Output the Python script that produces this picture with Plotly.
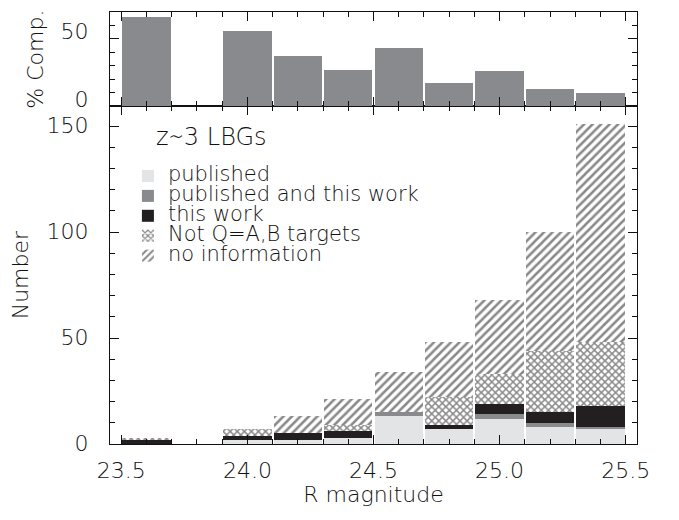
import plotly.graph_objects as go

# ---- data ----
bin_centers = [23.6, 23.8, 24.0, 24.2, 24.4, 24.6, 24.8, 25.0, 25.2, 25.4]
completeness = [66, 0, 56, 37, 27, 43, 17, 26, 13, 10]
published = [0, 0, 2, 2, 3, 13, 7, 12, 8, 7]
published_and_this = [0, 0, 0, 0, 0, 2, 0, 2, 2, 1]
this_work = [2, 0, 2, 3, 3, 0, 2, 5, 5, 10]
not_qab = [1, 0, 3, 0, 3, 0, 13, 14, 29, 30]
no_info = [0, 0, 0, 8, 12, 19, 26, 35, 56, 103]

x_ticks = [23.5, 24.0, 24.5, 25.0, 25.5]
y_ticks_main = [0, 50, 100, 150]
y_ticks_top = [0, 50]

series_names = ["published", "published and this work", "this work",
                "Not Q=A,B targets", "no information"]

FONT = "DejaVu Sans"
W = 300
INK = "#111111"
LIGHT = "#e3e4e6"
MID = "#898a8d"
DARK = "#231f20"
HATCH = "#141414"


def legend_label(s):
    return f'<span style="font-size:21px">{s}</span>'


fig = go.Figure()

# top panel: completeness
fig.add_trace(go.Bar(x=bin_centers, y=completeness, xaxis="x2", yaxis="y2",
                     marker=dict(color=MID, line=dict(width=0)), showlegend=False))

# main panel stacked histogram
fig.add_trace(go.Bar(x=bin_centers, y=published, name=legend_label(series_names[0]),
                     marker=dict(color=LIGHT, line=dict(width=0))))
fig.add_trace(go.Bar(x=bin_centers, y=published_and_this, name=legend_label(series_names[1]),
                     marker=dict(color=MID, line=dict(width=0))))
fig.add_trace(go.Bar(x=bin_centers, y=this_work, name=legend_label(series_names[2]),
                     marker=dict(color=DARK, line=dict(width=0))))
fig.add_trace(go.Bar(x=bin_centers, y=not_qab, name=legend_label(series_names[3]),
                     marker=dict(color="white", line=dict(width=0),
                                 pattern=dict(shape="x", fgcolor=HATCH, bgcolor="white",
                                              size=5, solidity=0.5))))
fig.add_trace(go.Bar(x=bin_centers, y=no_info, name=legend_label(series_names[4]),
                     marker=dict(color="white", line=dict(width=0),
                                 pattern=dict(shape="/", fgcolor=HATCH, bgcolor="white",
                                              size=6, solidity=0.42))))

tickfont = dict(family=FONT, size=22, color=INK, weight=W)
titlefont = dict(family=FONT, size=22, color=INK, weight=W)
axis_common = dict(showline=True, linecolor=INK, linewidth=1.2, mirror="allticks",
                   ticks="inside", tickcolor=INK, tickwidth=1.2, showgrid=False,
                   zeroline=False, tickfont=tickfont)
minor_x = dict(dtick=0.1, tick0=23.5, ticklen=5, ticks="inside", tickcolor=INK, tickwidth=1)
minor_y = dict(dtick=10, tick0=0, ticklen=5, ticks="inside", tickcolor=INK, tickwidth=1)

fig.update_layout(
    width=679, height=520,
    margin=dict(l=110, r=42, t=12, b=76),
    paper_bgcolor="white", plot_bgcolor="white",
    barmode="stack", bargap=0.04,
    font=dict(family=FONT, color=INK, size=18, weight=W),
    xaxis=dict(domain=[0, 1], anchor="y", range=[23.455, 25.545],
               tickvals=x_ticks, ticktext=[f"{v:.1f}" for v in x_ticks],
               ticklen=9, minor=minor_x, ticklabelstandoff=6,
               title=dict(text="R magnitude", font=titlefont, standoff=4),
               **axis_common),
    yaxis=dict(domain=[0, 0.782], anchor="x", range=[0, 159.4],
               tickvals=y_ticks_main, ticklen=9, minor=minor_y,
               ticklabelstandoff=16, ticklabelshift=-1,
               title=dict(text="Number", font=titlefont, standoff=11),
               **axis_common),
    xaxis2=dict(domain=[0, 1], anchor="y2", matches="x", showticklabels=False,
                tickvals=x_ticks, ticklen=9, minor=minor_x,
                **axis_common),
    yaxis2=dict(domain=[0.782, 1], anchor="x2", range=[0, 69.8],
                tickvals=y_ticks_top, ticklen=9, minor=minor_y,
                ticklabelstandoff=16, ticklabelshift=-7,
                title=dict(text="% Comp.", font=titlefont, standoff=10),
                **axis_common),
    legend=dict(x=0.034, y=0.655, xanchor="left", yanchor="top",
                bgcolor="rgba(0,0,0,0)", traceorder="normal", tracegroupgap=0,
                font=dict(family=FONT, size=13, color=INK, weight=W), itemwidth=30),
    annotations=[dict(text="z∼3 LBGs", xref="paper", yref="paper", x=0.083, y=0.711,
                      xanchor="left", yanchor="middle", align="left", showarrow=False,
                      font=dict(family=FONT, size=24, color=INK, weight=W))],
)

fig.write_html("out.html", config={"displayModeBar": False},
               post_script="document.body.style.margin='0px';")
